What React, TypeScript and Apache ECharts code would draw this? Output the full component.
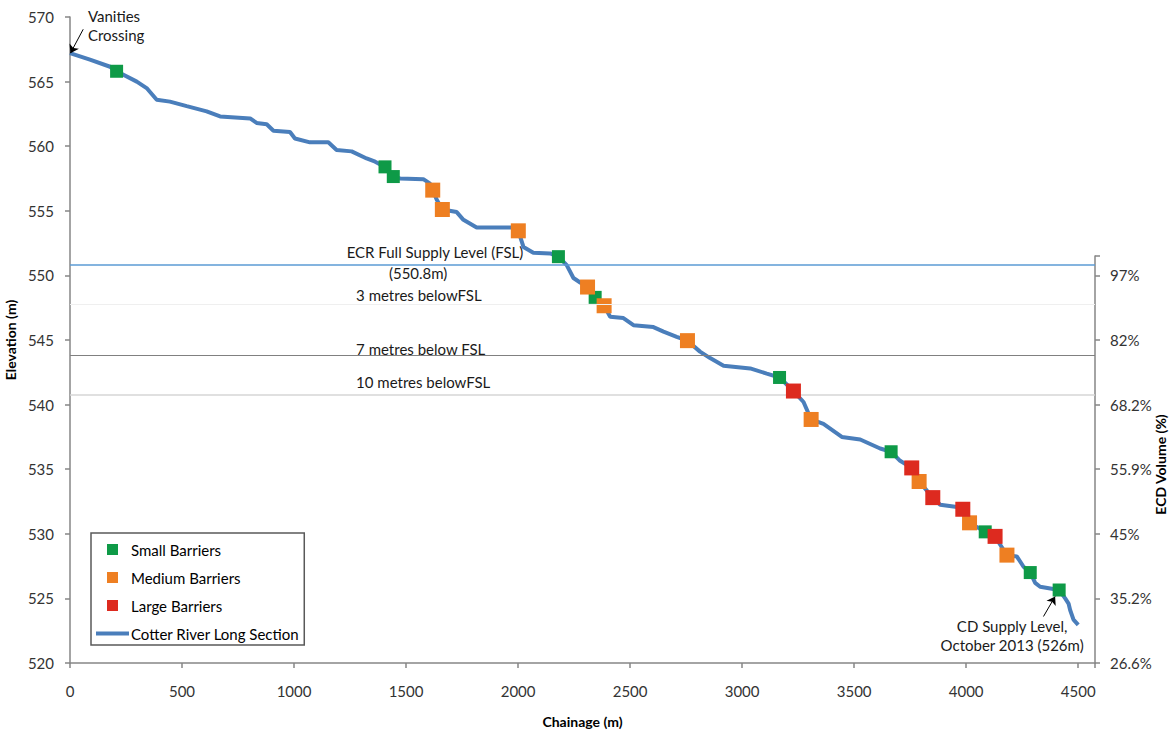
import React, { useEffect, useRef } from 'react';
import * as echarts from 'echarts';

// ---- Data ----
const chainage = [
  0, 89, 179, 208, 298, 342, 387, 446, 521, 610, 670, 804, 833, 878, 908, 982, 1004, 1071, 1153, 1190,
  1257, 1324, 1362, 1406, 1443, 1473, 1577, 1607, 1619, 1637, 1662, 1726, 1756, 1815, 1972, 2001, 2024,
  2068, 2143, 2180, 2217, 2247, 2277, 2310, 2344, 2384, 2411, 2470, 2515, 2604, 2649, 2708, 2756, 2812,
  2857, 2917, 3036, 3110, 3167, 3229, 3274, 3308, 3363, 3445, 3527, 3616, 3665, 3705, 3757, 3790, 3851,
  3884, 3951, 3985, 4015, 4085, 4129, 4152, 4182, 4226, 4256, 4286, 4308, 4330, 4415, 4442, 4457, 4464,
  4479, 4500,
];
const elevation = [
  567.2, 566.7, 566.15, 565.8, 565.0, 564.5, 563.6, 563.45, 563.1, 562.7, 562.3, 562.15, 561.8, 561.7,
  561.2, 561.1, 560.6, 560.3, 560.3, 559.7, 559.6, 559.05, 558.8, 558.4, 557.65, 557.5, 557.45, 557.1,
  556.6, 555.85, 555.1, 554.9, 554.3, 553.7, 553.7, 553.45, 552.2, 551.75, 551.7, 551.45, 550.8, 549.8,
  549.45, 549.1, 548.3, 547.65, 546.8, 546.7, 546.15, 546.0, 545.65, 545.25, 544.95, 544.1, 543.6, 543.0,
  542.8, 542.4, 542.1, 541.05, 540.2, 538.85, 538.5, 537.5, 537.3, 536.6, 536.35, 535.65, 535.1, 534.05,
  532.8, 532.25, 532.1, 531.9, 530.85, 530.15, 529.8, 529.15, 528.35, 528.25, 527.45, 527.0, 526.2, 525.9,
  525.65, 525.0, 524.6, 524.1, 523.35, 522.95,
];

const smallBarriers = [
  [208, 565.8], [1406, 558.4], [1443, 557.65], [2180, 551.45], [2344, 548.3], [3167, 542.1],
  [3665, 536.35], [4085, 530.15], [4286, 527.0], [4415, 525.65],
];
const mediumBarriers = [
  [1619, 556.6], [1662, 555.1], [2001, 553.45], [2310, 549.1], [2384, 547.65], [2756, 544.95],
  [3308, 538.85], [3790, 534.05], [4015, 530.85], [4182, 528.35],
];
const largeBarriers = [
  [3229, 541.05], [3757, 535.1], [3851, 532.8], [3985, 531.9], [4129, 529.8],
];

const elevationTicks = [520, 525, 530, 535, 540, 545, 550];
const volumeLabels = ['26.6%', '35.2%', '45%', '55.9%', '68.2%', '82%', '97%'];

const levelValues = [550.8, 547.8, 543.8, 540.8];
const levelColors = ['#5B9BD5', '#EFEFEF', '#808080', '#D6D6D6'];
const levelWidths = [1.5, 1, 1, 1.5];

// annotation texts and their anchor points (data coordinates)
const annotationTexts = [
  'Vanities\nCrossing',
  'CD Supply Level,\nOctober 2013 (526m)',
  'ECR Full Supply Level (FSL)',
  '(550.8m)',
  '3 metres belowFSL',
  '7 metres below FSL',
  '10 metres belowFSL',
];
const annotationAnchors = [
  [80, 569.35], [4205, 522.09], [1629, 551.81], [1554, 550.19], [1277, 548.48], [1277, 544.3], [1277, 541.75],
];
const annotationAlign = ['left', 'center', 'center', 'center', 'left', 'left', 'left'];

const arrowLines = [
  [[59, 569.05], [2, 567.2]],
  [[4345, 523.6], [4397, 525.15]],
];

const FONT = 'Lato, "Noto Sans", sans-serif';
const AXIS_COLOR = '#868686';
const SQUARE = 'path://M0 0H10V10H0Z';
const BAR = 'path://M0 0H33V4H0Z';

export default function App() {
  const ref = useRef<HTMLDivElement>(null);

  useEffect(() => {
    if (!ref.current) return;
    document.body.style.margin = '0';
    const chart = echarts.init(ref.current, undefined, { renderer: 'svg' });

    const lineData = chainage.map((c, i) => [c, elevation[i]]);

    const axisCommon = {
      axisLine: { show: true, onZero: false, lineStyle: { color: AXIS_COLOR, width: 1.5 } },
      axisTick: { show: true, inside: false, length: 5, lineStyle: { color: AXIS_COLOR, width: 1.5 } },
      splitLine: { show: false },
      nameTextStyle: { fontFamily: FONT, fontSize: 14, fontWeight: 'bold', color: '#000' },
    };
    const labelStyle = { fontSize: 15, color: '#333', fontFamily: FONT };

    const option: any = {
      animation: false,
      backgroundColor: '#fff',
      textStyle: { fontFamily: FONT },
      grid: [
        { left: 70, right: 77, top: 17, bottom: 68, outerBoundsMode: 'none', containLabel: false },
        { left: 70, right: 77, top: 256, bottom: 68, outerBoundsMode: 'none', containLabel: false },
      ],
      xAxis: [
        {
          ...axisCommon,
          gridIndex: 0,
          type: 'value',
          min: 0,
          max: 4575,
          interval: 500,
          axisLabel: {
            ...labelStyle,
            margin: 20,
            formatter: (v: number) => (v % 500 === 0 ? String(v) : ''),
          },
          name: 'Chainage (m)',
          nameLocation: 'middle',
          nameGap: 51,
        },
        { gridIndex: 1, type: 'value', min: 0, max: 4575, show: false },
      ],
      yAxis: [
        {
          ...axisCommon,
          gridIndex: 0,
          type: 'value',
          min: 520,
          max: 570,
          interval: 5,
          axisLabel: { ...labelStyle, margin: 16 },
          name: 'Elevation (m)',
          nameLocation: 'middle',
          nameGap: 38,
          nameRotate: 90,
        },
        {
          ...axisCommon,
          gridIndex: 1,
          type: 'value',
          position: 'right',
          min: 520,
          max: 551.5,
          interval: 5,
          axisLabel: {
            ...labelStyle,
            margin: 15,
            formatter: (v: number) => {
              const i = elevationTicks.findIndex((t) => Math.abs(t - v) < 1e-6);
              return i >= 0 ? volumeLabels[i] : '';
            },
          },
        },
      ],
      legend: {
        data: [
          { name: 'Small Barriers', icon: SQUARE },
          { name: 'Medium Barriers', icon: SQUARE },
          { name: 'Large Barriers', icon: SQUARE },
          { name: 'Cotter River Long Section', icon: BAR },
        ],
        orient: 'vertical',
        left: 91,
        top: 533,
        itemWidth: 33,
        itemHeight: 11,
        itemGap: 13,
        padding: [9, 5, 4, 5],
        borderColor: '#595959',
        borderWidth: 1.5,
        backgroundColor: '#fff',
        textStyle: { fontFamily: FONT, fontSize: 15, color: '#000', padding: [0, 0, 0, -3] },
      },
      series: [
        {
          name: 'levels',
          type: 'line',
          xAxisIndex: 0,
          yAxisIndex: 0,
          data: [],
          z: 1,
          silent: true,
          markLine: {
            silent: true,
            symbol: ['none', 'none'],
            label: { show: false },
            data: levelValues.map((v, i) => ({
              yAxis: v,
              lineStyle: { color: levelColors[i], width: levelWidths[i], type: 'solid' },
            })),
          },
        },
        {
          name: 'Cotter River Long Section',
          type: 'line',
          xAxisIndex: 0,
          yAxisIndex: 0,
          data: lineData,
          showSymbol: false,
          symbol: 'none',
          z: 2,
          itemStyle: { color: '#4A7EBB' },
          lineStyle: { color: '#4A7EBB', width: 4 },
          markLine: {
            silent: true,
            symbol: ['none', 'arrow'],
            symbolSize: 8,
            label: { show: false },
            lineStyle: { color: '#000', width: 1, type: 'solid' },
            data: arrowLines.map(([a, b]) => [{ coord: a }, { coord: b }]),
          },
        },
        {
          name: 'Small Barriers',
          type: 'scatter',
          data: smallBarriers,
          symbol: 'rect',
          symbolSize: 13,
          z: 3,
          itemStyle: { color: '#0E9A47', opacity: 1 },
        },
        {
          name: 'Medium Barriers',
          type: 'scatter',
          data: mediumBarriers,
          symbol: 'rect',
          symbolSize: 15,
          z: 4,
          itemStyle: { color: '#EE7F22', opacity: 1 },
        },
        {
          name: 'Large Barriers',
          type: 'scatter',
          data: largeBarriers,
          symbol: 'rect',
          symbolSize: 15,
          z: 5,
          itemStyle: { color: '#DD2A1F', opacity: 1 },
        },
      ],
    };

    chart.setOption(option);

    const graphics: any[] = annotationTexts.map((t, i) => {
      const p = chart.convertToPixel({ gridIndex: 0 } as any, annotationAnchors[i]) as number[];
      return {
        type: 'text',
        x: p[0],
        y: p[1],
        z: 10,
        style: {
          text: t,
          fill: '#1a1a1a',
          font: `15px ${FONT}`,
          align: annotationAlign[i],
          verticalAlign: 'middle',
          lineHeight: 19,
        },
      };
    });
    // right axis title, centred on the right axis span
    const top = chart.convertToPixel({ gridIndex: 1 } as any, [4575, 551.5]) as number[];
    const bottom = chart.convertToPixel({ gridIndex: 1 } as any, [4575, 520]) as number[];
    graphics.push({
      type: 'text',
      x: top[0] + 65,
      y: (top[1] + bottom[1]) / 2 + 5,
      rotation: Math.PI / 2,
      z: 10,
      style: {
        text: 'ECD Volume (%)',
        fill: '#000',
        font: `bold 14px ${FONT}`,
        align: 'center',
        verticalAlign: 'middle',
      },
    });
    chart.setOption({ graphic: graphics });

    return () => chart.dispose();
  }, []);

  return <div ref={ref} style={{ width: 1172, height: 731 }} />;
}
